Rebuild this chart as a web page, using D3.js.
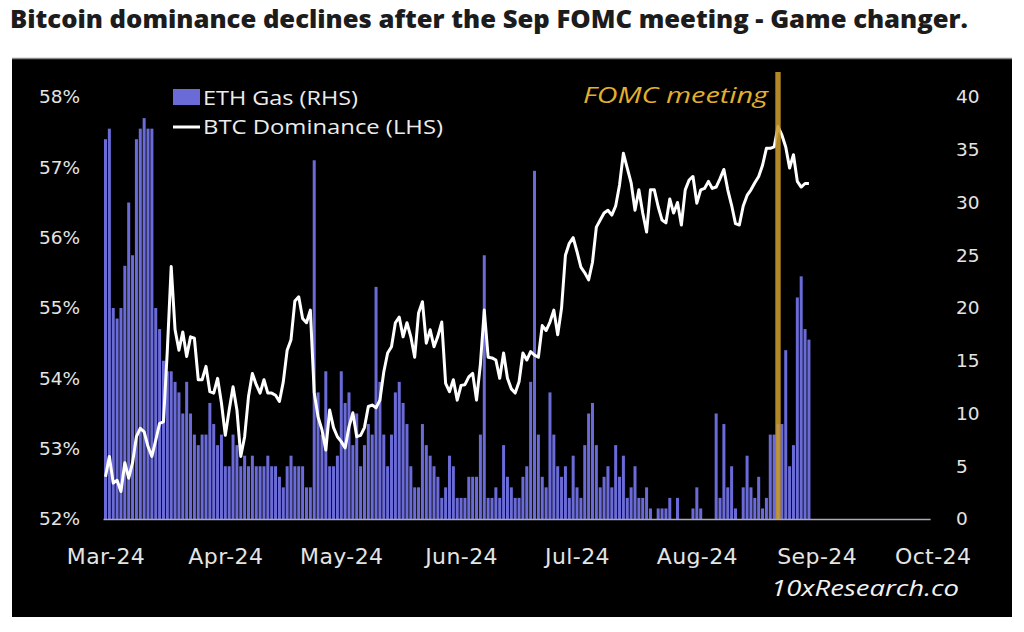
<!DOCTYPE html>
<html><head><meta charset="utf-8">
<script src="https://cdn.jsdelivr.net/npm/d3@7"></script>
<style>html,body{margin:0;padding:0;background:#fff;} svg{display:block}</style>
</head><body>
<svg id="chart" width="1024" height="632"></svg>
<script>
// ---- data (daily, starting 2024-03-28) ----
const startDateStr = "2024-03-28";
const ethGas = [36,37,20,19,20,24,30,25,36,37,38,37,37,20,18,15,14,14,13,12,10,13,10,8,7,8,8,11,9,7,8,5,5,8,7,5,6,5,6,5,5,5,6,5,5,4,3,5,6,5,5,
 5,3,3,34,12,8,14,5,5,6,14,11,12,7,10,5,7,9,8,22,
 13,8,5,8,12,13,11,9,5,3,3,9,7,6,5,4,
 2,3,6,5,2,2,2,4,4,4,8,25,
 2,2,3,2,7,4,3,2,2,4,5,13,33,
 8,4,3,12,8,5,4,5,2,6,3,2,7,10,11,7,3,4,5,3,7,4,6,2,3,5,2,2,3,1,0,1,1,1,2,0,2,
 0,0,0,1,3,1,0,0,0,10,2,9,3,5,1,0,3,6,3,2,4,1,2,8,8,9,9,16,5,7,21,23,18,17];
const btcDominance = [52.60,52.89,52.51,52.55,52.39,52.80,52.58,52.80,53.17,53.29,53.24,53.03,52.89,53.12,53.36,53.38,54.40,55.59,54.69,54.40,54.66,54.31,54.59,54.57,53.98,53.98,54.17,53.81,53.79,54.00,53.65,53.19,53.55,53.88,53.55,52.89,53.17,53.74,54.07,53.91,53.79,53.98,53.79,53.79,53.76,53.67,
 53.95,54.40,54.55,55.10,55.16,54.85,54.79,54.97,53.80,53.45,53.27,52.98,53.55,53.30,53.17,53.10,53.01,53.31,53.51,53.17,53.19,53.30,53.60,53.62,53.58,53.69,54.09,54.36,54.45,54.79,54.87,54.59,54.79,54.59,54.30,54.93,55.09,54.50,54.69,54.45,54.60,54.80,53.93,53.81,53.98,53.69,
 53.90,53.91,54.02,54.07,53.69,54.20,54.97,54.30,54.29,54.26,54.00,54.36,54.00,53.85,53.79,53.95,54.36,54.26,54.38,54.33,54.30,54.75,54.68,54.80,54.97,54.62,55.00,55.75,55.92,56.00,55.80,55.58,55.50,55.40,55.65,56.15,56.25,56.35,56.39,56.32,56.45,56.75,57.20,56.99,56.78,56.39,56.68,56.35,56.08,56.68,56.68,56.44,56.25,56.21,56.55,56.35,56.50,
 56.18,56.68,56.82,56.87,56.49,56.68,56.70,56.80,56.70,56.72,56.84,56.97,56.68,56.46,56.20,56.18,56.45,56.60,56.68,56.78,56.87,57.03,57.27,57.27,57.29,57.58,57.46,57.29,56.99,57.18,56.80,56.72,56.77,56.77];
const leftTicks = [52,53,54,55,56,57,58];
const rightTicks = [0,5,10,15,20,25,30,35,40];
const monthTickDates = ["2024-03-28","2024-04-28","2024-05-28","2024-06-28","2024-07-28","2024-08-28","2024-09-28","2024-10-28"];
const monthTickLabels = ["Mar-24","Apr-24","May-24","Jun-24","Jul-24","Aug-24","Sep-24","Oct-24"];
const xDomain = ["2024-03-28","2024-10-28"];
const fomcDate = "2024-09-18";
const titleText = "Bitcoin dominance declines after the Sep FOMC meeting - Game changer.";

// ---- build ----
const parse = d3.timeParse("%Y-%m-%d");
const start = parse(startDateStr);
const rows = ethGas.map((g,i)=>({date:d3.timeDay.offset(start,i), gas:g, btc:btcDominance[i]}));

const svg = d3.select("#chart");
const font = "'Open Sans', 'DejaVu Sans', sans-serif";
const axisFont = "'DejaVu Sans', sans-serif";
const barColor = "#6b6bd8";

svg.append("rect").attr("x",0).attr("y",0).attr("width",1024).attr("height",632).attr("fill","#fff");
svg.append("text").attr("x",10).attr("y",28).attr("font-family",font).attr("font-weight",800)
  .attr("font-size",24).attr("fill","#1c1c1c").attr("textLength",958).attr("lengthAdjust","spacingAndGlyphs")
  .text(titleText);
svg.append("rect").attr("x",12).attr("y",59).attr("width",1000).attr("height",558).attr("fill","#000");
svg.append("line").attr("x1",12).attr("x2",1012).attr("y1",58.5).attr("y2",58.5).attr("stroke","#8a8a8a").attr("stroke-width",1.5);

const plotBottom = 519, plotTop = 97;
const x = d3.scaleTime().domain(xDomain.map(parse)).range([105.5, 932.6]);
const yL = d3.scaleLinear().domain([52,58]).range([plotBottom, plotTop]);
const yR = d3.scaleLinear().domain([0,40]).range([plotBottom, plotTop]);

// bars
const bw = 3.0;
svg.append("g").selectAll("rect").data(rows).join("rect")
  .attr("x",d=>x(d.date)-bw/2).attr("width",bw)
  .attr("y",d=>yR(d.gas)).attr("height",d=>plotBottom-yR(d.gas))
  .attr("fill",barColor);

// btc line
const line = d3.line().x(d=>x(d.date)).y(d=>yL(d.btc));
svg.append("path").datum(rows).attr("d",line).attr("fill","none")
  .attr("stroke","#fff").attr("stroke-width",3).attr("stroke-linejoin","round");

// FOMC marker
const fx = x(parse(fomcDate));
svg.append("rect").attr("x",fx-2.7).attr("y",72).attr("width",5.4).attr("height",plotBottom-72)
  .attr("fill","#c99a2e").attr("opacity",0.88);
svg.append("text").attr("x",768).attr("y",103).attr("text-anchor","end")
  .attr("font-family",font).attr("font-style","italic").attr("font-size",22)
  .attr("fill","#e3b02e").attr("textLength",185).attr("lengthAdjust","spacingAndGlyphs").text("FOMC meeting");

// x axis line
svg.append("line").attr("x1",x.range()[0]-2).attr("x2",x.range()[1]-2).attr("y1",plotBottom+0.5).attr("y2",plotBottom+0.5)
  .attr("stroke","#a9a9b8").attr("stroke-width",1.5);

// axes
const axisText = "#e4e4e4";
const gx = svg.append("g").attr("transform",`translate(0,${plotBottom})`)
  .call(d3.axisBottom(x).tickValues(monthTickDates.map(parse)).tickFormat((d,i)=>monthTickLabels[i]).tickSize(0).tickPadding(29));
const gl = svg.append("g").attr("transform","translate(80,0)")
  .call(d3.axisLeft(yL).tickValues(leftTicks).tickFormat(d=>d+"%").tickSize(0).tickPadding(0));
const gr = svg.append("g").attr("transform","translate(956,0)")
  .call(d3.axisRight(yR).tickValues(rightTicks).tickSize(0).tickPadding(0));
[gx,gl,gr].forEach(g=>{
  g.select(".domain").remove();
  g.selectAll("text").attr("fill",axisText).attr("font-family",axisFont).attr("font-size",18.5);
});
gx.selectAll("text").attr("font-size",22).attr("letter-spacing",0.4);

// legend
svg.append("rect").attr("x",173).attr("y",89).attr("width",27).attr("height",16).attr("fill",barColor);
svg.append("text").attr("x",203).attr("y",104.5).attr("font-family",font).attr("font-size",20).attr("fill","#ececec")
  .attr("textLength",155).attr("lengthAdjust","spacingAndGlyphs").text("ETH Gas (RHS)");
svg.append("line").attr("x1",173).attr("x2",200).attr("y1",127).attr("y2",127).attr("stroke","#fff").attr("stroke-width",3);
svg.append("text").attr("x",203).attr("y",134).attr("font-family",font).attr("font-size",20).attr("fill","#ececec")
  .attr("textLength",240).attr("lengthAdjust","spacingAndGlyphs").text("BTC Dominance (LHS)");

// watermark
svg.append("text").attr("x",771).attr("y",596).attr("font-family",font).attr("font-style","italic").attr("font-size",21)
  .attr("fill","#f2f2f2").attr("textLength",188).attr("lengthAdjust","spacingAndGlyphs").text("10xResearch.co");
</script>
</body></html>
